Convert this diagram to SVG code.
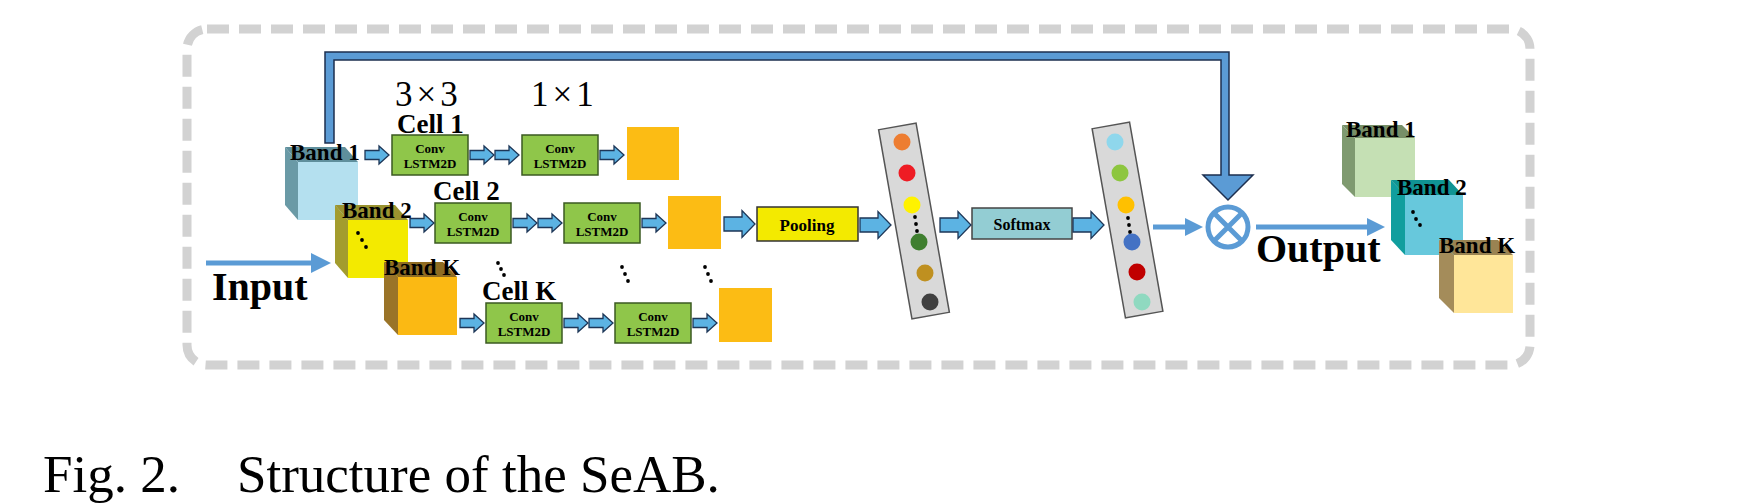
<svg xmlns="http://www.w3.org/2000/svg" width="1751" height="504" viewBox="0 0 1751 504">
<style>
text{font-family:"Liberation Serif","Times New Roman",serif;fill:#000}
.box{fill:#8fc64a;stroke:#3b5a22;stroke-width:1.5}
.sq{fill:#fcbc14}
.arr{fill:#5cb3e3;stroke:#1d3657;stroke-width:1.3}
.bt{font-size:13px;font-weight:bold;text-anchor:middle}
.bl{font-size:23px;font-weight:bold}
.cl{font-size:27px;font-weight:bold}
.kk{font-size:35px;letter-spacing:4px}
.vec{fill:#d9d9d9;stroke:#555;stroke-width:1.5}
.thin{stroke:#5b9bd5;stroke-width:5;fill:none}
.head{fill:#5b9bd5}
.big{font-size:40px;font-weight:bold}
.cap{font-size:53px}
</style>
<defs>
<path id="sa" class="arr" d="M0,-4.5 H14 V-9 L24,0 L14,9 V4.5 H0 Z"/>
<path id="ba" class="arr" d="M0,-7 H18 V-13.5 L31,0 L18,13.5 V7 H0 Z"/>
</defs>

<rect id="frame" x="187" y="29" width="1343" height="336" rx="20" fill="none" stroke="#d2d2d2" stroke-width="9" stroke-dasharray="22 10"/>

<!-- input cubes -->
<g id="in-band1">
<polygon points="285,147 345,147 358,162 298,162" fill="#5f8f9c"/>
<polygon points="285,147 298,162 298,220 285,205" fill="#6a9aa6"/>
<rect x="298" y="162" width="60" height="58" fill="#b4e0ef"/>
<text class="bl" x="290" y="160">Band 1</text>
</g>
<g id="in-band2">
<polygon points="335,205 395,205 408,220 348,220" fill="#9a9330"/>
<polygon points="335,205 348,220 348,278 335,263" fill="#a39c2e"/>
<rect x="348" y="220" width="60" height="58" fill="#f3ea00"/>
<text class="bl" x="342" y="218">Band 2</text>
<circle cx="358" cy="233" r="1.9"/><circle cx="362" cy="240" r="1.9"/><circle cx="366" cy="247" r="1.9"/>
</g>
<g id="in-bandK">
<polygon points="384,262 443,262 457,277 398,277" fill="#8f6c22"/>
<polygon points="384,262 398,277 398,335 384,320" fill="#9a7428"/>
<rect x="398" y="277" width="59" height="58" fill="#fbb913"/>
<text class="bl" x="384" y="275">Band K</text>
</g>

<g id="input-label">
<text class="big" x="212" y="300">Input</text>
</g>

<!-- kernel labels -->
<text class="kk" x="395" y="106">3×3</text>
<text class="kk" x="531" y="106">1×1</text>

<!-- row 1 -->
<g id="cell1">
<text class="cl" x="397" y="133">Cell 1</text>
<rect class="box" x="392" y="135" width="76" height="40"/>
<text class="bt" x="430" y="153">Conv</text><text class="bt" x="430" y="168">LSTM2D</text>
</g>
<g id="cell1b">
<rect class="box" x="522" y="135" width="76" height="40"/>
<text class="bt" x="560" y="153">Conv</text><text class="bt" x="560" y="168">LSTM2D</text>
</g>
<rect id="out1" class="sq" x="627" y="127" width="52" height="53"/>

<!-- row 2 -->
<g id="cell2">
<text class="cl" x="433" y="200">Cell 2</text>
<rect class="box" x="435" y="203" width="76" height="40"/>
<text class="bt" x="473" y="221">Conv</text><text class="bt" x="473" y="236">LSTM2D</text>
</g>
<g id="cell2b">
<rect class="box" x="564" y="203" width="76" height="40"/>
<text class="bt" x="602" y="221">Conv</text><text class="bt" x="602" y="236">LSTM2D</text>
</g>
<rect id="out2" class="sq" x="668" y="196" width="53" height="53"/>

<!-- row K -->
<g id="cellK">
<text class="cl" x="482" y="300">Cell K</text>
<rect class="box" x="486" y="303" width="76" height="40"/>
<text class="bt" x="524" y="321">Conv</text><text class="bt" x="524" y="336">LSTM2D</text>
</g>
<g id="cellKb">
<rect class="box" x="615" y="303" width="76" height="40"/>
<text class="bt" x="653" y="321">Conv</text><text class="bt" x="653" y="336">LSTM2D</text>
</g>
<rect id="outK" class="sq" x="719" y="288" width="53" height="54"/>

<g id="ellipses">
<circle cx="498" cy="263" r="1.9"/><circle cx="501" cy="269" r="1.9"/><circle cx="504" cy="275" r="1.9"/>
<circle cx="622" cy="267" r="1.9"/><circle cx="625" cy="274" r="1.9"/><circle cx="628" cy="281" r="1.9"/>
<circle cx="705" cy="267" r="1.9"/><circle cx="708" cy="274" r="1.9"/><circle cx="711" cy="281" r="1.9"/>
</g>

<g id="pooling">
<rect x="757" y="207" width="101" height="34" fill="#f3ea00" stroke="#333" stroke-width="1.5"/>
<text x="807" y="231" font-size="17" font-weight="bold" text-anchor="middle">Pooling</text>
</g>

<g id="vec1">
<rect class="vec" x="895" y="125" width="38" height="192" transform="rotate(-10 914 221)"/>
<circle cx="902" cy="142" r="8.5" fill="#ed7d31"/>
<circle cx="907" cy="173" r="8.5" fill="#ee1c24"/>
<circle cx="912" cy="205" r="8.5" fill="#fff200"/>
<circle cx="915" cy="217" r="1.9"/><circle cx="916" cy="224" r="1.9"/><circle cx="917" cy="231" r="1.9"/>
<circle cx="919" cy="242" r="8.5" fill="#3f7f2f"/>
<circle cx="925" cy="273" r="8.5" fill="#bf9020"/>
<circle cx="930" cy="302" r="8.5" fill="#404040"/>
</g>

<g id="softmax">
<rect x="972" y="208" width="100" height="31" fill="#93cdd3" stroke="#444" stroke-width="1.5"/>
<text x="1022" y="230" font-size="16" font-weight="bold" text-anchor="middle">Softmax</text>
</g>

<g id="vec2">
<rect class="vec" x="1108.5" y="124" width="38" height="192" transform="rotate(-10 1127.5 220)"/>
<circle cx="1115" cy="142" r="8.5" fill="#8fd7ec"/>
<circle cx="1120" cy="173" r="8.5" fill="#8dc63f"/>
<circle cx="1126" cy="205" r="8.5" fill="#ffc000"/>
<circle cx="1128" cy="218" r="1.9"/><circle cx="1129" cy="225" r="1.9"/><circle cx="1130" cy="232" r="1.9"/>
<circle cx="1132" cy="242" r="8.5" fill="#4472c4"/>
<circle cx="1137" cy="272" r="8.5" fill="#c00000"/>
<circle cx="1142" cy="302" r="8.5" fill="#8fd9c0"/>
</g>

<g id="multiply">
<circle cx="1228" cy="227" r="20" fill="#fff" stroke="#5b9bd5" stroke-width="5"/>
<path d="M1214,213 L1242,241 M1242,213 L1214,241" stroke="#5b9bd5" stroke-width="5"/>
</g>

<!-- output cubes -->
<g id="out-band1">
<polygon points="1342,125 1402,125 1415,138 1355,138" fill="#778f68"/>
<polygon points="1342,125 1355,138 1355,197 1342,184" fill="#7f9a70"/>
<rect x="1355" y="138" width="60" height="59" fill="#c5e0b4"/>
<text class="bl" x="1346" y="137">Band 1</text>
</g>
<g id="out-band2">
<polygon points="1391,180 1449,180 1463,195 1405,195" fill="#109494"/>
<polygon points="1391,180 1405,195 1405,255 1391,240" fill="#119e9e"/>
<rect x="1405" y="195" width="58" height="60" fill="#67c8dc"/>
<text class="bl" x="1397" y="195">Band 2</text>
<circle cx="1413" cy="212" r="1.9"/><circle cx="1416" cy="219" r="1.9"/><circle cx="1420" cy="225" r="1.9"/>
</g>
<g id="out-bandK">
<polygon points="1439,240 1498,240 1513,255 1454,255" fill="#9a8352"/>
<polygon points="1439,240 1454,255 1454,313 1439,298" fill="#a48c5a"/>
<rect x="1454" y="255" width="59" height="58" fill="#ffe699"/>
<text class="bl" x="1439" y="253">Band K</text>
</g>

<g id="output-label">
<text class="big" x="1256" y="262">Output</text>
</g>

<g id="connectors">
<path d="M325,143 V52 H1229 V175 H1253 L1228,200 L1203,175 H1221 V60 H334 V143 Z" fill="#5b9bd5" stroke="#1d2f4f" stroke-width="1.5"/>
<line class="thin" x1="206" y1="263" x2="314" y2="263"/>
<polygon class="head" points="311,253 331,263 311,273"/>
<line class="thin" x1="1153" y1="227" x2="1187" y2="227"/>
<polygon class="head" points="1185,218 1203,227 1185,236"/>
<line class="thin" x1="1256" y1="227" x2="1370" y2="227"/>
<polygon class="head" points="1367,218 1385,227 1367,236"/>
<use href="#sa" x="365" y="155"/>
<use href="#sa" x="470" y="155"/>
<use href="#sa" x="495" y="155"/>
<use href="#sa" x="600" y="155"/>
<use href="#sa" x="410" y="223"/>
<use href="#sa" x="513" y="223"/>
<use href="#sa" x="538" y="223"/>
<use href="#sa" x="642" y="223"/>
<use href="#sa" x="460" y="323"/>
<use href="#sa" x="564" y="323"/>
<use href="#sa" x="589" y="323"/>
<use href="#sa" x="693" y="323"/>
<use href="#ba" x="724" y="224"/>
<use href="#ba" x="860" y="225"/>
<use href="#ba" x="940" y="225"/>
<use href="#ba" x="1073" y="225"/>
</g>

<g id="caption">
<text class="cap" x="43" y="492">Fig. 2.</text>
<text class="cap" x="237" y="492">Structure of the SeAB.</text>
</g>
</svg>
